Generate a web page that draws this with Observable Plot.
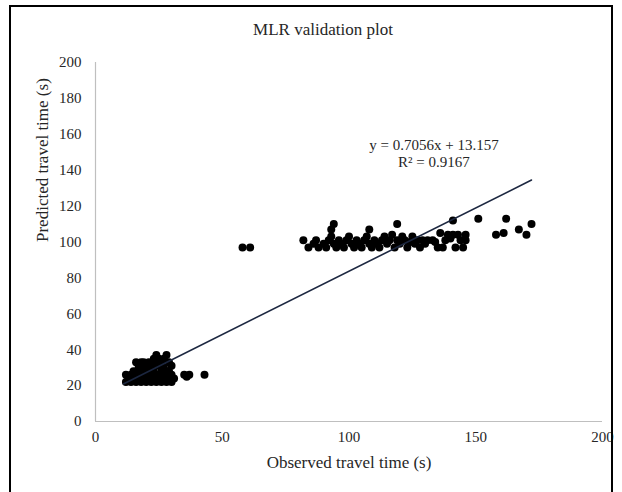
<!DOCTYPE html>
<html>
<head>
<meta charset="utf-8">
<script src="https://cdn.jsdelivr.net/npm/d3@7"></script>
<script src="https://cdn.jsdelivr.net/npm/@observablehq/plot@0.6"></script>
<style>
  html, body { margin: 0; padding: 0; background: #fff; }
  #wrap { position: relative; width: 622px; height: 492px; overflow: hidden; }
  #border { position: absolute; left: 9px; top: 5px; width: 604px; height: 520px; border: 2px solid #000; box-sizing: border-box; pointer-events: none; }
  svg { font-family: "Liberation Serif", "Times New Roman", serif; }
</style>
</head>
<body>
<div id="wrap"><div id="border"></div></div>
<script>
const title = "MLR validation plot";
const xLabel = "Observed travel time (s)";
const yLabel = "Predicted travel time (s)";
const xTicks = [0, 50, 100, 150, 200];
const yTicks = [0, 20, 40, 60, 80, 100, 120, 140, 160, 180, 200];
const slope = 0.7056;
const intercept = 13.157;
const trendRange = [11, 172];
const equationLines = ["y = 0.7056x + 13.157", "R\u00b2 = 0.9167"];

// observed values
const observed = [
  12,12,13,14,14,15,15,16,16,17,17,18,18,18,19,19,20,20,20,21,21,22,22,22,23,23,24,24,24,25,25,26,26,26,27,27,28,28,28,29,29,30,30,27,25,31,30,16,19,23,21,
  35,36,37,43,
  58,61,
  82,84,86,87,88,90,91,92,93,93,94,94,95,96,97,98,99,100,101,102,103,104,105,106,107,108,108,109,110,111,112,113,114,115,116,117,118,119,119,120,121,122,123,124,125,126,127,128,129,130,131,133,134,135,136,137,138,139,140,141,141,142,143,144,145,146,146,
  151,158,161,162,167,170,172
];
// predicted values
const predicted = [
  22,26,24,22,26,24,28,22,26,30,24,22,28,33,26,31,22,24,28,33,26,22,30,24,28,33,26,22,37,31,24,28,22,33,26,30,37,24,22,28,33,26,31,35,35,24,22,33,33,35,30,
  26,25,26,26,
  97,97,
  101,97,99,101,97,99,97,101,103,107,110,99,97,101,99,97,101,103,99,97,101,99,97,101,103,107,99,97,101,99,97,101,103,99,101,104,97,110,101,99,103,101,97,100,103,99,101,97,101,99,101,101,100,97,105,97,101,104,102,112,104,97,104,101,97,101,104,
  113,104,105,113,107,104,110
];

const points = observed.map((x, i) => ({x, y: predicted[i]}));
const trend = trendRange.map(x => ({x, y: slope * x + intercept}));
const eq = equationLines.map((t, i) => ({t, i}));

const W = 622, H = 492;
const plot = Plot.plot({
  width: W,
  height: H,
  marginLeft: 95,
  marginRight: 20,
  marginTop: 62,
  marginBottom: 71,
  style: {fontFamily: '"Liberation Serif", "Times New Roman", serif', fontSize: "15px", color: "#262626", background: "transparent"},
  x: {domain: [0, 200], ticks: xTicks, tickSize: 0, tickPadding: 10, label: null},
  y: {domain: [0, 200], ticks: yTicks, tickSize: 0, tickPadding: 14, label: null},
  marks: [
    Plot.ruleX([0], {stroke: "#bfbfbf", strokeWidth: 1.2}),
    Plot.ruleY([0], {stroke: "#bfbfbf", strokeWidth: 1.2}),
    Plot.dot(points, {x: "x", y: "y", r: 4, fill: "#000", stroke: "none"}),
    Plot.line(trend, {x: "x", y: "y", stroke: "#1c2740", strokeWidth: 1.6}),
    Plot.text(eq, {x: 133.5, y: d => d.i === 0 ? 153.8 : 144.3, text: "t", fontSize: 15, fill: "#262626", textAnchor: "middle"}),
    Plot.text([title], {frameAnchor: "top", dx: -26, dy: -40, fontSize: 17, fill: "#262626"}),
    Plot.text([xLabel], {frameAnchor: "bottom", dy: 46, fontSize: 17, fill: "#262626"}),
    Plot.text([yLabel], {frameAnchor: "left", dx: -53, rotate: -90, fontSize: 17, fill: "#262626"})
  ]
});
document.getElementById("wrap").insertBefore(plot, document.getElementById("border"));
</script>
</body>
</html>
